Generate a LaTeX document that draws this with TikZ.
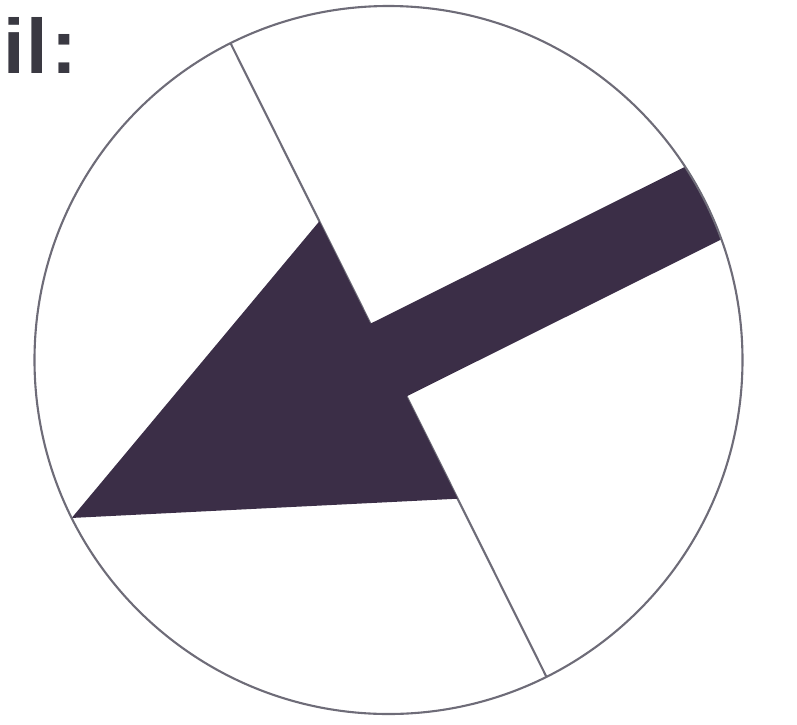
\documentclass[tikz,border=0pt]{standalone}
\usepackage{fontspec}
\setsansfont{Liberation Sans}
\definecolor{muiten}{HTML}{3B2E47}
\definecolor{chuxam}{HTML}{3A3942}
\definecolor{vienxam}{HTML}{6E6C78}
\begin{document}
\begin{tikzpicture}[x=1cm, y=1cm]
        \useasboundingbox (-3.885,-3.64) rectangle (4.085,3.60);
        \def\R{3.54}
        \def\goc{26.5}
        \coordinate (O) at (0,0);

        % Chữ ở góc trên
        \node[anchor=base west, inner sep=0pt, text=chuxam, font=\sffamily\bfseries\fontsize{22pt}{26pt}\selectfont] (nhan) at (-3.86, 2.87) {i\kern0.5pt l\kern1pt:};

        % Đường kính
        \draw[line width=0.6pt, vienxam] (\goc+90:\R) -- (\goc-90:\R);

        % Mũi tên
        \begin{scope}
            \clip (O) circle (\R);
            \fill[muiten] (\goc+180:\R) -- (\goc+90:1.55) -- (\goc+90:0.406) -- ++(\goc:4)
                -- ++(\goc-90:0.812) -- (\goc-90:0.406) -- (\goc-90:1.55) -- cycle;
        \end{scope}

        % Đường tròn
        \draw[line width=0.6pt, vienxam] (O) circle (\R);
    \end{tikzpicture}
\end{document}
